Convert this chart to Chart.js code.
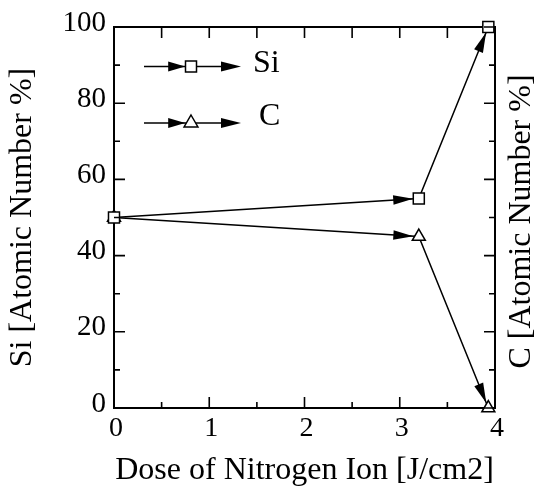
<!DOCTYPE html>
<html>
<head>
<meta charset="utf-8">
<script src="https://cdn.jsdelivr.net/npm/chart.js@4/dist/chart.umd.min.js"></script>
<style>
html,body{margin:0;padding:0;background:#fff;}
#wrap{width:541px;height:486px;}
</style>
</head>
<body>
<div id="wrap"><canvas id="c" width="541" height="486"></canvas></div>
<script>
// ---- data ----
const doses = [0, 3.2, 3.93];
const siValues = [50, 55, 100];
const cValues = [50, 45, 0];
const seriesLabels = ['Si', 'C'];
const xTickValues = [0, 1, 2, 3, 4];
const xMinorTicks = [0.5, 1.5, 2.5, 3.5];
const yTickValues = [0, 20, 40, 60, 80, 100];
const yMinorTicks = [10, 30, 50, 70, 90];
const xTitle = 'Dose of Nitrogen Ion [J/cm2]';
const yTitle = 'Si [Atomic Number %]';
const y2Title = 'C [Atomic Number %]';

const FONT = "'Liberation Serif', 'Times New Roman', serif";

function mkPoints(xs, ys) { return xs.map((x, i) => ({x: x, y: ys[i]})); }

// inward tick marks
const tickPlugin = {
  id: 'inTicks',
  afterDraw(chart) {
    const ctx = chart.ctx, a = chart.chartArea;
    const sx = chart.scales.x, sy = chart.scales.y;
    const MAJ = 11, MIN = 6;
    ctx.save();
    ctx.strokeStyle = '#000';
    ctx.lineWidth = 1.6;
    ctx.beginPath();
    xTickValues.forEach(v => {
      const px = sx.getPixelForValue(v);
      ctx.moveTo(px, a.bottom); ctx.lineTo(px, a.bottom - MAJ);
      ctx.moveTo(px, a.top); ctx.lineTo(px, a.top + MAJ);
    });
    xMinorTicks.forEach(v => {
      const px = sx.getPixelForValue(v);
      ctx.moveTo(px, a.bottom); ctx.lineTo(px, a.bottom - MIN);
      ctx.moveTo(px, a.top); ctx.lineTo(px, a.top + MAJ);
    });
    yTickValues.forEach(v => {
      const py = sy.getPixelForValue(v);
      ctx.moveTo(a.left, py); ctx.lineTo(a.left + MAJ, py);
      ctx.moveTo(a.right, py); ctx.lineTo(a.right - MAJ, py);
    });
    yMinorTicks.forEach(v => {
      const py = sy.getPixelForValue(v);
      ctx.moveTo(a.left, py); ctx.lineTo(a.left + MIN, py);
      ctx.moveTo(a.right, py); ctx.lineTo(a.right - MIN, py);
    });
    ctx.stroke();
    ctx.restore();
  }
};

// right-hand axis title, reading bottom-to-top like the left one
const rightTitlePlugin = {
  id: 'rightTitle',
  afterDraw(chart) {
    const ctx = chart.ctx, a = chart.chartArea;
    ctx.save();
    ctx.translate(522, (a.top + a.bottom) / 2 + 4);
    ctx.rotate(-Math.PI / 2);
    ctx.fillStyle = '#000';
    ctx.font = '32px ' + FONT;
    ctx.textAlign = 'center';
    ctx.textBaseline = 'middle';
    ctx.fillText(y2Title, 0, 0);
    ctx.restore();
  }
};

function arrowHead(ctx, tipX, tipY, ux, uy, L, W) {
  const bx = tipX - ux * L, by = tipY - uy * L;
  const px = -uy, py = ux;
  ctx.beginPath();
  ctx.moveTo(tipX, tipY);
  ctx.lineTo(bx + px * W / 2, by + py * W / 2);
  ctx.lineTo(bx - px * W / 2, by - py * W / 2);
  ctx.closePath();
  ctx.fill();
}

// arrowheads at each segment end
const arrowPlugin = {
  id: 'arrows',
  afterDatasetsDraw(chart) {
    const ctx = chart.ctx;
    ctx.save();
    ctx.fillStyle = '#000';
    chart.data.datasets.forEach((ds, di) => {
      const pts = chart.getDatasetMeta(di).data;
      for (let i = 1; i < pts.length; i++) {
        const a = pts[i - 1], b = pts[i];
        const dx = b.x - a.x, dy = b.y - a.y;
        const len = Math.hypot(dx, dy);
        const ux = dx / len, uy = dy / len;
        let off;
        if (ds.pointStyle === 'rect') {
          off = 5.6 / Math.max(Math.abs(ux), Math.abs(uy));
        } else {
          off = 5.5;
        }
        arrowHead(ctx, b.x - ux * off, b.y - uy * off, ux, uy, 20, 9.5);
      }
    });
    ctx.restore();
  }
};

// legend inside the plot
const legendPlugin = {
  id: 'inLegend',
  afterDraw(chart) {
    const ctx = chart.ctx;
    const rows = [66.5, 123];
    ctx.save();
    chart.data.datasets.forEach((ds, di) => {
      const y = rows[di];
      const x0 = 144, xm = 191, x1 = 241;
      ctx.strokeStyle = '#000';
      ctx.fillStyle = '#000';
      ctx.lineWidth = 1.5;
      ctx.beginPath();
      ctx.moveTo(x0, y); ctx.lineTo(x1 - 10, y);
      ctx.stroke();
      arrowHead(ctx, xm - 5.8, y, 1, 0, 17, 10);
      arrowHead(ctx, x1, y, 1, 0, 20, 10);
      ctx.fillStyle = '#fff';
      ctx.lineWidth = 1.5;
      if (ds.pointStyle === 'rect') {
        ctx.beginPath();
        ctx.rect(xm - 5.5, y - 5.5, 11, 11);
        ctx.fill(); ctx.stroke();
      } else {
        const r = 8;
        ctx.beginPath();
        ctx.moveTo(xm, y - r);
        ctx.lineTo(xm + r * 0.866, y + r / 2);
        ctx.lineTo(xm - r * 0.866, y + r / 2);
        ctx.closePath();
        ctx.fill(); ctx.stroke();
      }
      ctx.fillStyle = '#000';
      ctx.font = '32px ' + FONT;
      ctx.textBaseline = 'middle';
      ctx.textAlign = 'left';
      ctx.fillText(ds.label, di === 0 ? 253 : 259, di === 0 ? 64 : 117);
    });
    ctx.restore();
  }
};

const tickFont = {family: FONT, size: 29};
const xTickFont = {family: FONT, size: 28};
const titleFont = {family: FONT, size: 32, lineHeight: 1};

new Chart(document.getElementById('c'), {
  type: 'scatter',
  data: {
    datasets: [
      {
        label: seriesLabels[0],
        data: mkPoints(doses, siValues),
        showLine: true,
        borderColor: '#000',
        borderWidth: 1.5,
        pointStyle: 'rect',
        pointRadius: 7.8,
        pointBorderWidth: 1.5,
        pointBackgroundColor: '#fff',
        pointBorderColor: '#000',
        clip: false
      },
      {
        label: seriesLabels[1],
        data: mkPoints(doses, cValues),
        showLine: true,
        borderColor: '#000',
        borderWidth: 1.5,
        pointStyle: 'triangle',
        pointRadius: 7.5,
        pointBorderWidth: 1.5,
        pointBackgroundColor: '#fff',
        pointBorderColor: '#000',
        clip: false
      }
    ]
  },
  options: {
    responsive: false,
    animation: false,
    events: [],
    layout: {padding: 0},
    plugins: {legend: {display: false}, tooltip: {enabled: false}},
    scales: {
      x: {
        type: 'linear', position: 'bottom', min: 0, max: 4,
        afterFit: s => { s.height = 78; },
        afterBuildTicks: s => { s.ticks = xTickValues.map(v => ({value: v})); },
        ticks: {font: xTickFont, color: '#000', padding: 4, maxRotation: 0, autoSkip: false, labelOffset: 2},
        grid: {display: false, drawTicks: false},
        border: {display: true, color: '#000', width: 2},
        title: {display: true, text: xTitle, font: titleFont, color: '#000', padding: {top: 0, bottom: -1}}
      },
      x2: {
        type: 'linear', position: 'top', min: 0, max: 4,
        afterFit: s => { s.height = 27; },
        ticks: {display: false},
        grid: {display: false, drawTicks: false},
        border: {display: true, color: '#000', width: 2}
      },
      y: {
        type: 'linear', position: 'left', min: 0, max: 100,
        afterFit: s => { s.width = 114; },
        afterBuildTicks: s => { s.ticks = yTickValues.map(v => ({value: v})); },
        ticks: {font: tickFont, color: '#000', padding: 8, labelOffset: -4},
        grid: {display: false, drawTicks: false},
        border: {display: true, color: '#000', width: 2},
        title: {display: true, text: yTitle, font: titleFont, color: '#000', padding: {top: 6.5, bottom: 0}}
      },
      y2: {
        type: 'linear', position: 'right', min: 0, max: 100,
        afterFit: s => { s.width = 46; },
        ticks: {display: false},
        grid: {display: false, drawTicks: false},
        border: {display: true, color: '#000', width: 2},
        title: {display: false}
      }
    }
  },
  plugins: [tickPlugin, arrowPlugin, legendPlugin, rightTitlePlugin]
});
</script>
</body>
</html>
